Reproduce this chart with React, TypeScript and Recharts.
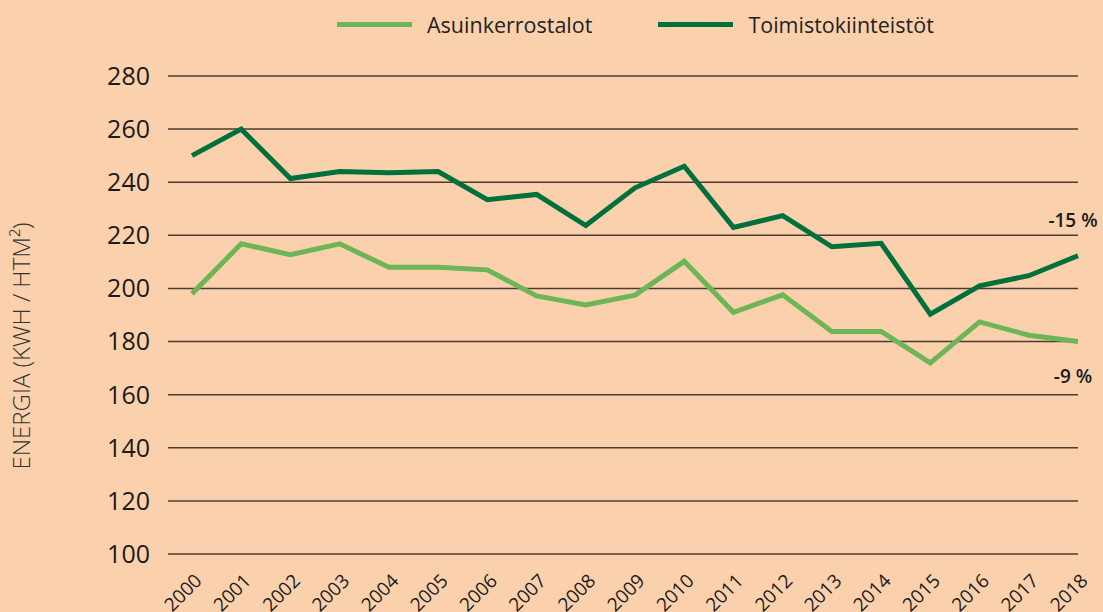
import { LineChart, Line, XAxis, YAxis, CartesianGrid, Legend, LabelList } from 'recharts';

const years = ['2000', '2001', '2002', '2003', '2004', '2005', '2006', '2007', '2008', '2009',
  '2010', '2011', '2012', '2013', '2014', '2015', '2016', '2017', '2018'];
const asuinkerrostalot = [198, 216.8, 212.7, 216.8, 208, 208, 207, 197.2, 193.8, 197.5,
  210.2, 191, 197.6, 183.8, 183.8, 172, 187.4, 182.4, 180];
const toimistokiinteistot = [250, 260, 241.4, 244, 243.6, 244, 233.4, 235.4, 223.7, 237.9,
  246, 223, 227.4, 215.7, 217, 190.3, 201, 204.8, 212.3];
const yTicks = [100, 120, 140, 160, 180, 200, 220, 240, 260, 280];
const changeLabels = { asuin: '-9 %', toimisto: '-15 %' };

const LIGHT = '#6db556';
const DARK = '#00703c';
const FONT = '"Open Sans", "Noto Sans", sans-serif';

const data = years.map((year, i) => ({
  year,
  asuin: asuinkerrostalot[i],
  toimisto: toimistokiinteistot[i],
}));

const XTick = ({ x, y, payload }: any) => (
  <text
    x={x + 11}
    y={y + 20}
    transform={`rotate(-45, ${x + 11}, ${y + 20})`}
    textAnchor="end"
    fontSize={19}
    fontFamily={FONT}
    fill="#1a1a1a"
  >
    {payload.value}
  </text>
);

const endLabel = (text: string, dy: number) => (props: any) => {
  const { x, y, index } = props;
  if (index !== years.length - 1) return null;
  return (
    <text x={x - 5} y={y + dy} textAnchor="middle" fontSize={19} fontWeight={600} fontFamily={FONT} fill="#1a1a1a">
      {text}
    </text>
  );
};

const LegendContent = () => (
  <div style={{ height: 70, display: 'flex', alignItems: 'flex-start', fontFamily: FONT, fontSize: 21.5, color: '#222' }}>
    <div style={{ display: 'flex', alignItems: 'center', marginLeft: 337, marginTop: 4 }}>
      <span style={{ width: 75, height: 5, background: LIGHT, display: 'inline-block', marginRight: 15 }} />
      <span>Asuinkerrostalot</span>
    </div>
    <div style={{ display: 'flex', alignItems: 'center', marginLeft: 66, marginTop: 4 }}>
      <span style={{ width: 75, height: 5, background: DARK, display: 'inline-block', marginRight: 15 }} />
      <span>Toimistokiinteistöt</span>
    </div>
  </div>
);

export default function App() {
  return (
    <div style={{ position: 'absolute', left: 0, top: 0, width: 1103, height: 612, background: '#fbd1ad' }}>
      <LineChart width={1103} height={612} data={data} margin={{ top: 6, right: 25, bottom: 0, left: 0 }}>
        <Legend verticalAlign="top" align="left" content={<LegendContent />} />
        <CartesianGrid horizontal vertical={false} stroke="#4a3c32" strokeWidth={1.5} />
        <XAxis
          dataKey="year"
          interval={0}
          padding={{ left: 24, right: 0 }}
          tickLine={false}
          axisLine={false}
          height={58}
          tick={<XTick />}
        />
        <YAxis
          domain={[100, 280]}
          ticks={yTicks}
          width={168}
          tickLine={false}
          axisLine={false}
          tickSize={6}
          tickMargin={12}
          tick={{ fontSize: 25, fill: '#1a1a1a', fontFamily: FONT }}
          label={{
            content: ({ viewBox }: any) => {
              const cx = viewBox.x + 30;
              const cy = viewBox.y + viewBox.height / 2 + 31;
              return (
                <text
                  x={cx}
                  y={cy}
                  transform={`rotate(-90, ${cx}, ${cy})`}
                  textAnchor="middle"
                  fontSize={24}
                  fontWeight={300}
                  fontFamily={FONT}
                  fill="#333"
                >
                  ENERGIA (KWH / HTM²)
                </text>
              );
            },
          }}
        />
        <Line type="linear" dataKey="asuin" stroke={LIGHT} strokeWidth={5} dot={false} isAnimationActive={false}>
          <LabelList dataKey="asuin" content={endLabel(changeLabels.asuin, 41)} />
        </Line>
        <Line type="linear" dataKey="toimisto" stroke={DARK} strokeWidth={5} dot={false} isAnimationActive={false}>
          <LabelList dataKey="toimisto" content={endLabel(changeLabels.toimisto, -29)} />
        </Line>
      </LineChart>
    </div>
  );
}
